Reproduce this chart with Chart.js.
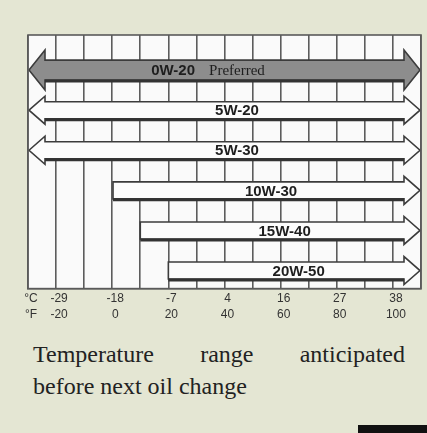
<!DOCTYPE html>
<html>
<head>
<meta charset="utf-8">
<script src="https://cdn.jsdelivr.net/npm/chart.js@4/dist/chart.umd.min.js"></script>
<style>
  html, body { margin:0; padding:0; background:#e4e6d3; }
  #wrap { position:relative; width:427px; height:433px; overflow:hidden; }
  #c { position:absolute; left:0; top:0; }
  #cap { position:absolute; left:33px; top:338px; width:372px;
    font:24px "Liberation Serif", "Times New Roman", serif; line-height:32px; color:#222; }
  #cap .l1 { text-align:justify; text-align-last:justify; }
  #tag { position:absolute; left:358px; top:425px; width:69px; height:8px; background:#111; }
</style>
</head>
<body>
<div id="wrap">
  <canvas id="c" width="427" height="325"></canvas>
  <div id="cap"><div class="l1">Temperature range anticipated</div><div>before next oil change</div></div>
  <div id="tag"></div>
</div>
<script>
// oil grades, top to bottom, with their usable range in °F
const grades = ["0W-20", "5W-20", "5W-30", "10W-30", "15W-40", "20W-50"];
const notes  = ["Preferred", "", "", "", "", ""];
const lowF   = [-30, -30, -30, 0, 10, 20];
const highF  = [110, 110, 110, 110, 110, 110];

// axis labels
const fTicks = [-20, 0, 20, 40, 60, 80, 100];
const cTicks = ["-29", "-18", "-7", "4", "16", "27", "38"];

const arrows = {
  id: "arrows",
  beforeDraw(chart){
    const { ctx, chartArea:a } = chart;
    ctx.save(); ctx.fillStyle = "#fafafa";
    ctx.fillRect(a.left, a.top, a.right - a.left, a.bottom - a.top);
    ctx.restore();
  },
  afterDatasetsDraw(chart){
    const { ctx, chartArea:a } = chart;
    const xs = chart.scales.x;
    chart.getDatasetMeta(0).data.forEach((bar, i) => {
      const x0 = Math.min(bar.base, bar.x), x1 = Math.max(bar.base, bar.x);
      const y = bar.y;
      const pref = i === 0;
      const sh = pref ? 10 : 8.5, hh = pref ? 20 : 14, hl = 17;
      const leftHead = lowF[i] <= xs.min;
      ctx.save();
      ctx.beginPath();
      if (leftHead){
        ctx.moveTo(x0 + 1, y);
        ctx.lineTo(x0 + hl, y - hh);
        ctx.lineTo(x0 + hl, y - sh);
      } else ctx.moveTo(x0, y - sh);
      ctx.lineTo(x1 - hl, y - sh);
      ctx.lineTo(x1 - hl, y - hh);
      ctx.lineTo(x1 - 1, y);
      ctx.lineTo(x1 - hl, y + hh);
      ctx.lineTo(x1 - hl, y + sh);
      if (leftHead){
        ctx.lineTo(x0 + hl, y + sh);
        ctx.lineTo(x0 + hl, y + hh);
      } else ctx.lineTo(x0, y + sh);
      ctx.closePath();
      ctx.fillStyle = pref ? "#8d8d8d" : "#fcfcfc";
      ctx.fill();
      ctx.lineWidth = 1.6; ctx.strokeStyle = "#3c3c3c"; ctx.stroke();
      // heavier shadow along the bottom of the shaft
      ctx.beginPath();
      ctx.moveTo(leftHead ? x0 + hl : x0, y + sh + 1);
      ctx.lineTo(x1 - hl, y + sh + 1);
      ctx.lineWidth = 3; ctx.strokeStyle = "#333"; ctx.stroke();

      const cx = ((leftHead ? x0 + hl : x0) + x1) / 2;
      ctx.fillStyle = "#1e1e1e"; ctx.textBaseline = "middle";
      if (notes[i]){
        ctx.font = "bold 15px 'Liberation Sans', Arial, sans-serif";
        const w1 = ctx.measureText(grades[i]).width;
        ctx.font = "15px 'Liberation Serif', serif";
        const w2 = ctx.measureText(notes[i]).width;
        const gx = cx - 25 - (w1 + 14 + w2) / 2;
        ctx.textAlign = "left";
        ctx.font = "bold 15px 'Liberation Sans', Arial, sans-serif";
        ctx.fillText(grades[i], gx, y + 1);
        ctx.font = "15px 'Liberation Serif', serif";
        ctx.fillText(notes[i], gx + w1 + 14, y + 1);
      } else {
        ctx.textAlign = "center";
        ctx.font = "bold 15px 'Liberation Sans', Arial, sans-serif";
        ctx.fillText(grades[i], cx + 4, y + 1);
      }
      ctx.restore();
    });
    ctx.save();
    ctx.strokeStyle = "#5a5a5a"; ctx.lineWidth = 1.6;
    ctx.strokeRect(a.left, a.top, a.right - a.left, a.bottom - a.top);
    ctx.restore();
  }
};

new Chart(document.getElementById("c"), {
  type: "bar",
  data: {
    datasets: [{
      data: grades.map((g, i) => ({ x: [lowF[i], highF[i]], y: i })),
      backgroundColor: "transparent",
      borderWidth: 0,
      barThickness: 18,
    }],
  },
  options: {
    responsive: false,
    animation: false,
    indexAxis: "y",
    layout: { padding: { top: 35, left: 28, right: 6, bottom: 0 } },
    plugins: { legend: { display: false }, tooltip: { enabled: false } },
    scales: {
      x: {
        type: "linear", min: -30, max: 110,
        grid: { color: "#5c5c5c", lineWidth: 1.6, drawTicks: false },
        border: { color: "#5a5a5a", width: 1.6 },
        ticks: {
          stepSize: 10, autoSkip: false, maxRotation: 0, padding: 2, labelOffset: 3,
          color: "#333", font: { family: "'Liberation Sans', Arial, sans-serif", size: 12, lineHeight: 1.35 },
          callback: v => {
            const k = fTicks.indexOf(v);
            if (k >= 0) return [cTicks[k], String(v)];
            if (v === -30) return ["°C", "°F"];
            return "";
          },
        },
      },
      y: { type: "linear", reverse: true, offset: false, min: -0.875, max: 5.45, display: false },
    },
  },
  plugins: [arrows],
});
</script>
</body>
</html>
